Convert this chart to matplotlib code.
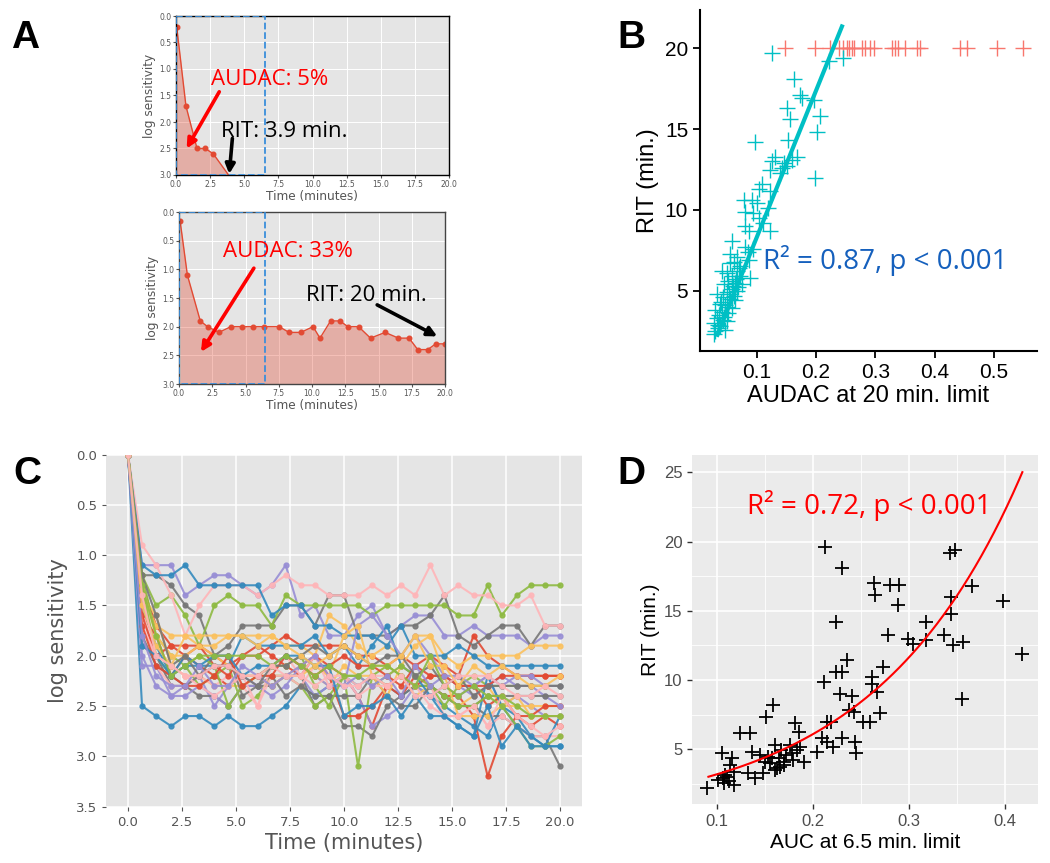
import matplotlib
matplotlib.use("Agg")
import matplotlib.pyplot as plt
from matplotlib.patches import Rectangle
from matplotlib.ticker import MultipleLocator
import numpy as np

# ---------------- data ----------------
# Panel A: two example dark-adaptation curves
a_top_time = [0.05, 0.73, 1.54, 2.15, 2.73, 3.85]
a_top_sens = [0.2, 1.7, 2.5, 2.5, 2.6, 3.0]
a_bot_time = [0.08, 0.63, 1.6, 2.15, 3.0, 3.9, 4.75, 5.53, 6.36, 7.53, 8.28, 9.16, 10.08,
              10.6, 11.4, 12.1, 12.7, 13.5, 14.4, 15.5, 16.5, 17.3, 17.95, 18.7, 19.3, 20.0]
a_bot_sens = [0.15, 1.1, 1.9, 2.0, 2.1, 2.0, 2.0, 2.0, 2.0, 2.0, 2.1, 2.1, 2.0,
              2.2, 1.9, 1.9, 2.0, 2.0, 2.2, 2.1, 2.2, 2.2, 2.4, 2.4, 2.3, 2.3]
AUDAC_WINDOW = 6.5

# Panel B: RIT vs AUDAC (cyan = reached RIT, red = capped at 20 min)
b_audac = [0.125, 0.246, 0.221, 0.162, 0.173, 0.176, 0.196, 0.151, 0.156, 0.207,
           0.201, 0.097, 0.153, 0.131, 0.168, 0.125, 0.145, 0.151, 0.123, 0.139,
           0.198, 0.108, 0.103, 0.123, 0.078, 0.092, 0.100, 0.080, 0.094, 0.103,
           0.123, 0.080, 0.086, 0.058, 0.080, 0.094, 0.055, 0.067, 0.061, 0.086,
           0.072, 0.041, 0.049, 0.089, 0.072, 0.063, 0.075, 0.032, 0.049, 0.058,
           0.067, 0.043, 0.055, 0.063, 0.038, 0.049, 0.058, 0.030, 0.041, 0.052,
           0.032, 0.043, 0.027, 0.038, 0.030, 0.035, 0.046, 0.027, 0.035, 0.061,
           0.069, 0.052, 0.058, 0.067, 0.040, 0.047, 0.053, 0.036, 0.044, 0.050,
           0.060, 0.065, 0.070, 0.045, 0.055, 0.085, 0.110, 0.118, 0.142, 0.160]
b_rit = [19.7, 19.4, 19.2, 18.1, 17.1, 16.9, 16.8, 16.3, 15.6, 15.8,
         14.8, 14.2, 14.3, 13.3, 13.3, 13.0, 12.9, 12.7, 12.5, 12.3,
         12.0, 11.6, 11.3, 11.2, 10.6, 10.6, 10.4, 9.9, 9.8, 9.5,
         8.7, 9.0, 8.7, 8.1, 7.7, 7.6, 7.3, 7.1, 6.8, 6.9,
         6.5, 6.2, 6.1, 5.8, 5.9, 5.5, 5.4, 4.8, 4.9, 5.1,
         5.0, 4.6, 4.5, 4.4, 4.2, 4.0, 3.9, 3.8, 3.7, 3.6,
         3.3, 3.2, 3.0, 2.8, 2.5, 2.7, 2.6, 2.35, 2.9, 4.7,
         5.2, 5.6, 5.9, 6.2, 4.3, 4.1, 4.8, 3.5, 3.4, 3.1,
         5.3, 5.7, 6.4, 5.4, 6.7, 7.4, 9.2, 10.1, 12.6, 13.1]
b_capped_audac = [0.148, 0.199, 0.224, 0.238, 0.246, 0.252, 0.256, 0.260, 0.264, 0.277,
                  0.283, 0.291, 0.297, 0.328, 0.334, 0.339, 0.350, 0.370, 0.376, 0.443,
                  0.455, 0.505, 0.550]
RIT_CAP = 20.0
b_fit_slope, b_fit_icpt = 90.7, -0.75
b_fit_range = [0.032, 0.245]

# Panel C: all dark-adaptation curves
c_time = [0.0, 0.65, 1.3, 2.0, 2.65, 3.3, 4.0, 4.65, 5.3, 6.0, 6.65, 7.3, 8.0, 8.65, 9.3, 10.0,
          10.65, 11.3, 12.0, 12.65, 13.3, 14.0, 14.65, 15.3, 16.0, 16.65, 17.3, 18.0, 18.65, 19.3, 20.0]
c_curves = [
    [0, 1.3, 1.7, 1.9, 1.9, 1.9, 2.0, 2.1, 2.0, 2.0, 1.9, 1.8, 1.9, 1.9, 1.9, 1.9, 2.0, 2.0, 2.1, 2.0, 2.1, 2.0, 2.1, 2.2, 1.8, 2.0, 2.1, 2.2, 2.2, 2.2, 2.2],
    [0, 2.5, 2.6, 2.7, 2.6, 2.6, 2.7, 2.6, 2.7, 2.7, 2.6, 2.5, 2.3, 2.4, 2.3, 2.2, 2.3, 2.2, 2.3, 2.4, 2.3, 2.4, 2.5, 2.6, 2.7, 2.8, 2.5, 2.6, 2.8, 2.9, 2.9],
    [0, 1.1, 1.1, 1.1, 1.4, 1.3, 1.2, 1.2, 1.3, 1.4, 1.3, 1.1, 1.6, 1.5, 1.8, 1.8, 1.6, 1.5, 1.8, 1.7, 1.6, 1.6, 1.8, 1.8, 1.7, 1.8, 1.8, 1.8, 1.9, 1.8, 1.8],
    [0, 1.2, 1.2, 1.3, 1.5, 1.6, 2.0, 1.9, 1.7, 1.7, 1.7, 1.5, 1.5, 1.7, 1.4, 1.4, 1.8, 1.8, 1.8, 1.7, 1.7, 1.6, 1.4, 1.8, 1.9, 1.8, 1.7, 1.7, 1.9, 1.7, 1.7],
    [0, 1.4, 1.7, 1.8, 1.8, 1.9, 1.9, 1.8, 1.8, 1.8, 1.8, 1.9, 1.9, 2.0, 1.6, 1.7, 1.9, 2.0, 1.9, 2.0, 1.8, 1.8, 2.0, 2.1, 2.0, 2.0, 2.0, 2.0, 1.9, 1.9, 1.9],
    [0, 1.2, 1.5, 1.4, 1.6, 1.9, 1.5, 1.4, 1.5, 1.5, 1.7, 1.4, 1.5, 1.5, 1.5, 1.5, 1.5, 1.6, 1.5, 1.5, 1.5, 1.5, 1.5, 1.6, 1.6, 1.3, 1.6, 1.4, 1.3, 1.3, 1.3],
    [0, 0.9, 1.1, 1.4, 1.8, 1.5, 1.3, 1.3, 1.3, 1.4, 1.3, 1.2, 1.3, 1.3, 1.4, 1.4, 1.4, 1.3, 1.4, 1.3, 1.4, 1.1, 1.4, 1.3, 1.4, 1.4, 1.5, 1.5, 1.4, 1.7, 1.7],
    [0, 1.6, 1.8, 2.2, 2.0, 2.1, 2.2, 2.3, 2.2, 2.2, 2.1, 2.0, 2.1, 2.0, 2.1, 2.2, 2.4, 2.7, 2.3, 2.4, 2.2, 2.3, 2.4, 2.4, 2.6, 3.2, 2.8, 2.6, 2.7, 2.6, 2.7],
    [0, 1.1, 1.2, 1.2, 1.1, 1.3, 1.3, 1.3, 1.3, 1.3, 1.6, 1.5, 1.5, 1.7, 1.7, 1.8, 1.8, 1.8, 1.9, 1.7, 2.0, 2.0, 2.0, 1.9, 2.0, 2.1, 2.1, 2.1, 2.1, 2.1, 2.1],
    [0, 2.1, 2.1, 2.4, 2.3, 2.2, 2.5, 2.3, 2.2, 2.3, 2.3, 2.2, 2.2, 2.4, 2.3, 2.2, 2.4, 2.7, 2.6, 2.5, 2.3, 2.4, 2.3, 2.4, 2.3, 2.2, 2.5, 2.4, 2.5, 2.6, 2.6],
    [0, 1.9, 2.0, 2.3, 2.3, 2.4, 2.4, 2.5, 2.3, 2.3, 2.3, 2.2, 2.2, 2.5, 2.4, 2.7, 2.7, 2.8, 2.5, 2.4, 2.3, 2.3, 2.4, 2.5, 2.5, 2.6, 2.6, 2.7, 2.8, 2.8, 3.1],
    [0, 1.4, 1.6, 2.1, 2.2, 2.2, 2.3, 2.3, 2.3, 2.2, 2.2, 2.2, 2.1, 2.2, 2.3, 2.1, 2.2, 2.2, 2.3, 2.2, 2.4, 2.3, 2.4, 2.5, 2.4, 2.3, 2.5, 2.5, 2.5, 2.5, 2.5],
    [0, 1.2, 1.8, 2.0, 2.1, 2.3, 2.2, 2.1, 2.5, 2.4, 2.2, 2.2, 2.3, 2.5, 2.4, 2.2, 3.1, 2.2, 2.1, 2.2, 2.3, 2.3, 2.5, 2.3, 2.2, 2.3, 2.3, 2.3, 2.3, 2.3, 2.3],
    [0, 1.5, 2.1, 2.3, 2.3, 2.2, 2.3, 2.2, 2.3, 2.5, 2.2, 2.2, 2.3, 2.1, 2.2, 2.2, 2.3, 2.2, 2.2, 2.1, 2.2, 2.3, 2.6, 2.6, 2.5, 2.7, 2.6, 2.7, 2.8, 2.8, 2.8],
    [0, 1.6, 2.0, 1.9, 2.0, 1.9, 2.1, 2.2, 2.0, 1.9, 2.0, 2.1, 2.2, 2.0, 2.2, 2.6, 2.6, 2.5, 2.3, 2.2, 2.3, 2.2, 2.2, 2.3, 2.3, 2.5, 2.4, 2.6, 2.6, 2.5, 2.5],
    [0, 1.5, 1.9, 2.2, 2.0, 2.1, 2.1, 2.1, 1.8, 1.9, 1.9, 1.9, 1.9, 1.8, 2.0, 1.9, 2.1, 1.9, 1.7, 2.1, 2.2, 2.4, 2.6, 2.7, 2.8, 2.2, 2.5, 2.7, 2.8, 2.9, 2.6],
    [0, 2.0, 2.3, 2.4, 2.4, 2.3, 2.4, 2.5, 2.3, 2.3, 2.4, 2.3, 2.1, 2.2, 2.3, 2.3, 1.7, 1.6, 1.8, 2.0, 1.8, 2.0, 2.2, 2.3, 2.4, 2.3, 2.2, 2.3, 2.3, 2.4, 2.5],
    [0, 1.8, 2.1, 2.2, 2.3, 2.2, 2.0, 2.0, 2.4, 2.3, 2.2, 2.4, 2.3, 2.4, 2.4, 2.4, 2.4, 2.2, 2.4, 2.5, 2.5, 2.3, 2.4, 2.5, 2.5, 2.4, 2.4, 2.4, 2.4, 2.4, 2.4],
    [0, 1.3, 1.8, 2.0, 2.0, 1.9, 2.0, 2.1, 2.2, 2.2, 2.3, 2.2, 2.2, 2.1, 2.2, 1.8, 1.7, 2.2, 2.4, 2.1, 1.9, 1.8, 2.2, 2.6, 2.6, 2.6, 2.5, 2.4, 2.6, 2.6, 2.6],
    [0, 1.3, 2.0, 2.2, 2.1, 2.0, 2.1, 2.5, 2.3, 2.2, 2.1, 2.1, 2.0, 2.3, 2.5, 2.2, 2.2, 2.3, 2.2, 2.1, 2.2, 2.3, 2.4, 2.5, 2.5, 2.4, 2.5, 2.7, 2.9, 2.9, 2.8],
    [0, 1.7, 2.0, 2.1, 2.2, 2.3, 2.4, 2.3, 2.2, 2.5, 2.1, 2.0, 2.2, 2.0, 2.3, 2.2, 2.4, 2.3, 2.3, 2.2, 2.3, 2.5, 2.6, 2.6, 2.5, 2.7, 2.4, 2.6, 2.7, 2.8, 2.7],
    [0, 1.7, 2.1, 2.2, 2.3, 2.3, 2.2, 2.0, 2.3, 2.2, 2.2, 2.0, 2.1, 2.2, 2.1, 2.0, 2.1, 2.1, 2.2, 2.3, 2.1, 2.2, 2.2, 2.3, 2.3, 2.3, 2.2, 2.2, 2.2, 2.2, 2.2],
    [0, 1.9, 2.0, 2.2, 2.1, 2.1, 2.0, 2.0, 2.2, 2.1, 2.1, 2.0, 2.0, 2.1, 2.1, 2.6, 2.5, 2.5, 2.4, 2.6, 2.4, 2.6, 2.6, 2.7, 2.8, 2.5, 2.9, 2.7, 2.9, 2.9, 2.9],
    [0, 1.8, 2.2, 2.3, 2.3, 2.1, 2.3, 2.3, 2.1, 2.2, 2.3, 2.2, 2.1, 2.0, 2.2, 2.3, 2.2, 2.3, 2.2, 2.4, 2.1, 2.3, 2.2, 2.2, 2.3, 2.2, 2.3, 2.2, 2.2, 2.3, 2.3],
    [0, 1.2, 1.6, 2.1, 2.0, 2.2, 2.1, 2.1, 2.2, 2.3, 2.1, 2.1, 2.0, 1.9, 2.0, 1.9, 2.0, 2.1, 2.0, 2.0, 2.2, 2.1, 2.3, 2.2, 2.4, 2.3, 2.3, 2.3, 2.3, 2.3, 2.3],
    [0, 1.5, 1.9, 2.1, 1.8, 1.8, 1.8, 1.8, 1.8, 1.9, 1.8, 1.9, 2.0, 2.1, 2.0, 1.9, 2.0, 2.1, 2.1, 2.0, 1.8, 2.1, 2.1, 2.3, 2.1, 2.2, 2.1, 2.2, 2.3, 2.3, 2.2],
    [0, 1.3, 1.8, 2.2, 2.1, 2.0, 2.0, 2.0, 2.0, 2.0, 2.1, 2.0, 2.1, 2.2, 2.1, 2.2, 2.2, 2.1, 2.1, 2.2, 2.3, 2.0, 2.3, 2.4, 2.3, 2.4, 2.4, 2.5, 2.6, 2.6, 2.6],
    [0, 1.4, 2.0, 2.1, 2.2, 2.2, 2.1, 2.1, 2.2, 2.2, 2.1, 2.2, 2.2, 2.3, 2.2, 2.3, 2.3, 2.2, 2.3, 2.2, 2.4, 2.4, 2.3, 2.2, 2.2, 2.2, 2.3, 2.4, 2.4, 2.3, 2.4],
]

# Panel D: RIT vs AUC at 6.5 min
d_auc = [0.089, 0.105, 0.115, 0.101, 0.106, 0.107, 0.117, 0.113, 0.117, 0.124,
         0.134, 0.132, 0.139, 0.136, 0.145, 0.148, 0.151, 0.158, 0.150, 0.155,
         0.160, 0.160, 0.164, 0.166, 0.157, 0.169, 0.172, 0.176, 0.178, 0.181,
         0.185, 0.183, 0.186, 0.190, 0.179, 0.204, 0.211, 0.212, 0.209, 0.214,
         0.214, 0.219, 0.221, 0.224, 0.224, 0.230, 0.230, 0.235, 0.228, 0.240,
         0.230, 0.237, 0.242, 0.244, 0.245, 0.252, 0.259, 0.261, 0.261, 0.263,
         0.264, 0.266, 0.270, 0.273, 0.278, 0.280, 0.289, 0.288, 0.299, 0.304,
         0.318, 0.318, 0.336, 0.343, 0.348, 0.344, 0.344, 0.346, 0.356, 0.355,
         0.366, 0.398, 0.418, 0.110, 0.108, 0.112, 0.165, 0.170, 0.153, 0.162]
d_rit = [2.16, 4.69, 4.33, 2.76, 2.88, 2.52, 2.40, 3.85, 3.37, 6.14,
         6.14, 3.26, 2.88, 4.81, 4.57, 3.26, 7.35, 8.19, 4.09, 3.97,
         3.49, 5.29, 4.33, 4.93, 4.33, 3.85, 4.57, 5.29, 4.69, 6.87,
         6.27, 4.93, 5.17, 4.09, 4.21, 4.81, 9.86, 19.63, 5.77, 5.53,
         6.99, 6.99, 5.17, 14.19, 10.58, 18.07, 10.58, 11.43, 9.00, 8.87,
         5.77, 7.83, 7.71, 5.53, 4.69, 6.99, 6.99, 10.22, 9.74, 17.00,
         16.15, 9.14, 7.59, 10.94, 13.23, 16.88, 16.88, 15.43, 12.99, 12.63,
         14.19, 12.87, 13.23, 19.15, 19.39, 16.03, 14.80, 12.51, 12.75, 8.63,
         16.76, 15.72, 11.87, 2.95, 3.10, 2.70, 3.70, 4.05, 4.45, 3.65]
d_fit_a, d_fit_b = 1.667, 6.48       # RIT = a * exp(b * AUC)
d_fit_range = [0.0907, 0.418]

# ---------------- styling ----------------
W, H = 1050, 863
GG_CYCLE = ['#E24A33', '#348ABD', '#988ED5', '#777777', '#FBC15E', '#8EBA42', '#FFB5B8']
ARIAL = 'Liberation Sans'
NOTE = 'Open Sans'


def box(x0, y0, x1, y1):
    """pixel box (origin top-left) -> figure rect"""
    return [x0 / W, 1 - y1 / H, (x1 - x0) / W, (y1 - y0) / H]


def mpl_ggplot(ax, tick_size, grid_lw):
    ax.set_facecolor('#E5E5E5')
    ax.grid(True, color='white', lw=grid_lw)
    ax.set_axisbelow(True)
    ax.tick_params(colors='#555555', labelsize=tick_size, length=3, width=0.8)
    for s in ax.spines.values():
        s.set_visible(False)


def panel_label(ch, x, y):
    fig.text(x / W, 1 - y / H, ch, fontsize=28, fontweight='bold', family=ARIAL,
             ha='center', va='center')


fig = plt.figure(figsize=(W / 100, H / 100), dpi=100)

# ---------------- panel A ----------------
examples = [
    (box(176, 16, 449, 175), a_top_time, a_top_sens, False, 'black',
     ('AUDAC: 5%', (2.6, 1.19), (3.17, 1.43), (0.78, 2.50)),
     ('RIT: 3.9 min.', (3.3, 2.18), (4.13, 2.31), (3.9, 2.98))),
    (box(179, 212, 445, 384), a_bot_time, a_bot_sens, True, '#444444',
     ('AUDAC: 33%', (3.28, 0.69), (5.63, 0.98), (1.65, 2.44)),
     ('RIT: 20 min.', (9.54, 1.45), (14.9, 1.62), (19.42, 2.17))),
]
for rect, t, s, mark_last, frame, red_note, black_note in examples:
    ax = fig.add_axes(rect)
    mpl_ggplot(ax, 5.5, 0.7)
    ax.fill_between(t, s, 3.0, color=GG_CYCLE[0], alpha=0.35, lw=0)
    ax.plot(t, s, color=GG_CYCLE[0], lw=1.0)
    n = len(t) if mark_last else len(t) - 1
    ax.plot(t[:n], s[:n], 'o', color=GG_CYCLE[0], ms=3.3)
    ax.add_patch(Rectangle((0, 0), AUDAC_WINDOW, 3.0, fill=False, ec='#3A8EDB',
                           lw=1.3, ls='--', zorder=4))
    for sp in ax.spines.values():
        sp.set_visible(True)
        sp.set_color(frame)
        sp.set_linewidth(1.0)
    ax.set_xlim(0, 20)
    ax.set_ylim(3, 0)
    ax.set_xticks(np.arange(0, 20.1, 2.5))
    ax.set_yticks(np.arange(0, 3.01, 0.5))
    ax.tick_params(length=2, pad=1.5)
    ax.set_xlabel('Time (minutes)', fontsize=8.7, color='#555555', labelpad=1)
    ax.set_ylabel('log sensitivity', fontsize=8.7, color='#555555', labelpad=2)
    for (txt, pos, start, end), col in ((red_note, 'red'), (black_note, 'black')):
        ax.text(pos[0], pos[1], txt, color=col, fontsize=16, family=NOTE,
                ha='left', va='center', zorder=6)
        ax.annotate('', xy=end, xytext=start, zorder=6,
                    arrowprops=dict(arrowstyle='-|>', color=col, lw=2.6,
                                    mutation_scale=14, shrinkA=0, shrinkB=0))
panel_label('A', 25, 38)

# ---------------- panel B ----------------
ax = fig.add_axes(box(700, 10, 1037, 351))
ax.plot(b_capped_audac, np.full(len(b_capped_audac), RIT_CAP), '+', color='#F8766D',
        ms=11, mew=1.0)
ax.plot(b_audac, b_rit, '+', color='#00BFC4', ms=11, mew=1.0)
fx = np.array(b_fit_range)
ax.plot(fx, b_fit_icpt + b_fit_slope * fx, color='#00BFC4', lw=3.0, solid_capstyle='butt')
ax.set_xlim(0.004, 0.573)
ax.set_ylim(1.27, 22.37)
ax.set_xticks([0.1, 0.2, 0.3, 0.4, 0.5])
ax.set_yticks([5, 10, 15, 20])
for sp in ('top', 'right'):
    ax.spines[sp].set_visible(False)
for sp in ('left', 'bottom'):
    ax.spines[sp].set_linewidth(1.5)
ax.tick_params(labelsize=15, length=5, width=1.3, colors='black')
for lab in ax.get_xticklabels() + ax.get_yticklabels():
    lab.set_family(ARIAL)
ax.set_xlabel('AUDAC at 20 min. limit', fontsize=17, family=ARIAL, labelpad=2)
ax.set_ylabel('RIT (min.)', fontsize=17, family=ARIAL, labelpad=4)
ax.text(0.110, 6.9, 'R² = 0.87, p < 0.001', color='#1560BD', fontsize=20, family=NOTE,
        ha='left', va='center')
panel_label('B', 631, 38)

# ---------------- panel C ----------------
ax = fig.add_axes(box(106.4, 454.5, 581.6, 806.6))
mpl_ggplot(ax, 9.5, 1.1)
for i, sens in enumerate(c_curves):
    ax.plot(c_time, sens, '-o', color=GG_CYCLE[i % len(GG_CYCLE)], lw=1.5, ms=3.5,
            alpha=0.9)
ax.set_xlim(-1, 21)
ax.set_ylim(3.5, 0)
ax.set_xticks(np.arange(0, 20.1, 2.5))
ax.set_yticks(np.arange(0, 3.51, 0.5))
ax.set_xlabel('Time (minutes)', fontsize=15, color='#555555', labelpad=3)
ax.set_ylabel('log sensitivity', fontsize=15, color='#555555', labelpad=6)
panel_label('C', 27, 474)

# ---------------- panel D ----------------
ax = fig.add_axes(box(692.3, 455, 1037.7, 804))
ax.set_facecolor('#EBEBEB')
for sp in ax.spines.values():
    sp.set_visible(False)
ax.xaxis.set_major_locator(MultipleLocator(0.1))
ax.xaxis.set_minor_locator(MultipleLocator(0.05))
ax.yaxis.set_major_locator(MultipleLocator(5))
ax.yaxis.set_minor_locator(MultipleLocator(2.5))
ax.grid(True, which='major', color='white', lw=1.2)
ax.grid(True, which='minor', color='white', lw=0.6)
ax.set_axisbelow(True)
ax.plot(d_auc, d_rit, '+', color='black', ms=10, mew=1.3)
cx = np.linspace(d_fit_range[0], d_fit_range[1], 200)
ax.plot(cx, d_fit_a * np.exp(d_fit_b * cx), color='red', lw=1.5)
ax.set_xlim(0.0739, 0.434)
ax.set_ylim(1.03, 26.26)
ax.tick_params(which='major', labelsize=12, labelcolor='#4D4D4D', color='#333333',
               length=3.5, width=1.0)
ax.tick_params(which='minor', length=0)
for lab in ax.get_xticklabels() + ax.get_yticklabels():
    lab.set_family(ARIAL)
ax.set_xlabel('AUC at 6.5 min. limit', fontsize=15, family=ARIAL, labelpad=3)
ax.set_ylabel('RIT (min.)', fontsize=15, family=ARIAL, labelpad=3)
ax.text(0.1307, 22.6, 'R² = 0.72, p < 0.001', color='red', fontsize=20, family=NOTE,
        ha='left', va='center')
panel_label('D', 631, 474)

fig.savefig('out.png', dpi=100)
